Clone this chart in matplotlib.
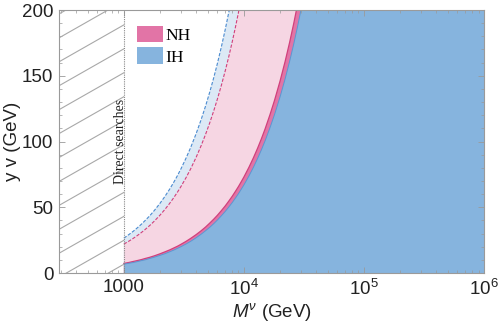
import matplotlib
matplotlib.use("Agg")
import matplotlib.pyplot as plt
import numpy as np
from matplotlib.patches import Rectangle, Patch
from matplotlib.ticker import FixedLocator, LogLocator, MultipleLocator, NullFormatter

# masses (GeV) and boundary values of y v (GeV)
mass = [1000, 1100, 1200, 1300, 1400, 1500, 1650, 1800, 2000, 2200, 2400,
        2600, 2800, 3000, 3300, 3600, 4000, 4400, 4800, 5200, 5600, 6000,
        6500, 7000, 7500, 8000, 8500, 9000, 9500, 10000, 11000, 12000,
        13000, 14000, 15000, 16500, 18000, 20000, 22000, 24000, 26000,
        28000, 30000, 33000, 40000, 1000000]
ih_solid = [6.7, 7.4, 8.0, 8.7, 9.4, 10.0, 11.1, 12.1, 13.4, 14.7, 16.1,
            17.4, 18.8, 20.1, 22.1, 24.1, 26.8, 29.5, 32.2, 34.8, 37.5, 40.2,
            43.6, 46.9, 50.3, 53.6, 57.0, 60.3, 63.7, 67, 73.7, 80.4,
            87.1, 93.8, 100.5, 110.6, 120.6, 134, 147.4, 160.8, 174.2,
            187.6, 201, 221, 268, 6700]
nh_solid = [7.3, 8.0, 8.8, 9.5, 10.2, 11.0, 12.0, 13.1, 14.6, 16.1, 17.5,
            19.0, 20.4, 21.9, 24.1, 26.3, 29.2, 32.1, 35.0, 38.0, 40.9, 43.8,
            47.5, 51.1, 54.8, 58.4, 62.1, 65.7, 69.4, 73, 80.3, 87.6,
            94.9, 102.2, 109.5, 120.5, 131.4, 146, 160.6, 175.2, 189.8,
            204.4, 219, 241, 292, 7300]
nh_dashed = [22, 24.2, 26.4, 28.6, 30.8, 33, 36.3, 39.6, 44, 48.4, 52.8,
             57.2, 61.6, 66, 72.6, 79.2, 88, 96.8, 105.6, 114.4, 123.2, 132,
             143, 154, 165, 176, 187, 198, 209, 220, 242, 264,
             286, 308, 330, 363, 396, 440, 484, 528, 572,
             616, 660, 726, 880, 22000]
ih_dashed = [26.5, 29.2, 31.8, 34.5, 37.1, 39.8, 43.7, 47.7, 53, 58.3, 63.6,
             68.9, 74.2, 79.5, 87.5, 95.4, 106, 116.6, 127.2, 137.8, 148.4, 159,
             172.3, 185.5, 198.8, 212, 225.3, 238.5, 251.8, 265, 291.5, 318,
             344.5, 371, 397.5, 437, 477, 530, 583, 636, 689,
             742, 795, 875, 1060, 26500]
direct_limit = 1000
x_range = (10 ** 2.46, 1e6)
y_range = (0, 200)
x_ticks = [1e3, 1e4, 1e5, 1e6]
x_ticklabels = ["1000", "$10^4$", "$10^5$", "$10^6$"]

pink_dark = "#e274a6"
pink_light = "#f6d6e3"
pink_line = "#d1407c"
blue = "#86b4de"
blue_light = "#dce9f5"
blue_line = "#4b8bd0"
frame = "#9a9a9a"

plt.rcParams["font.family"] = ["Liberation Sans", "DejaVu Sans"]
plt.rcParams["mathtext.fontset"] = "custom"
plt.rcParams["mathtext.rm"] = "Liberation Sans"
plt.rcParams["mathtext.it"] = "Liberation Sans:italic"

fig = plt.figure(figsize=(4.98, 3.24), dpi=100)
ax = fig.add_axes([0.1185, 0.1574, 0.8535, 0.8117])

m = np.asarray(mass)
ax.fill_between(m, 0, ih_dashed, color=blue_light, lw=0)
ax.fill_between(m, 0, nh_dashed, color=pink_light, lw=0)
ax.fill_between(m, 0, nh_solid, color=pink_dark, lw=0)
ax.fill_between(m, 0, ih_solid, color=blue, lw=0)
ax.plot(m, ih_dashed, color=blue_line, lw=0.8, ls=(0, (3, 1.5)))
ax.plot(m, nh_dashed, color=pink_line, lw=0.8, ls=(0, (3, 1.5)))
ax.plot(m, nh_solid, color=pink_line, lw=0.9)
ax.plot(m, ih_solid, color="#5c97d2", lw=0.7)

# excluded region from direct searches
ax.axvline(direct_limit, color="#888888", lw=0.8, ls=(0, (1, 1)))
clip = Rectangle((x_range[0], y_range[0]), direct_limit - x_range[0],
                 y_range[1] - y_range[0], transform=ax.transData,
                 fill=False, lw=0)
ax.add_patch(clip)
width_frac = (np.log10(direct_limit) - np.log10(x_range[0])) / (
    np.log10(x_range[1]) - np.log10(x_range[0]))
for start in np.arange(0.894 - 12 * 0.091, 1.0, 0.091):
    line, = ax.plot([0, width_frac], [start, start + 0.92 * width_frac],
                    transform=ax.transAxes, color="#a8a8a8", lw=0.8)
    line.set_clip_path(clip)

ax.text(945, 100, "Direct searches", rotation=90, ha="center", va="center",
        family=["Liberation Serif", "DejaVu Serif"], fontsize=10,
        color="#222222")

ax.set_xscale("log")
ax.set_xlim(*x_range)
ax.set_ylim(*y_range)
ax.xaxis.set_major_locator(FixedLocator(x_ticks))
ax.set_xticklabels(x_ticklabels)
ax.xaxis.set_minor_locator(LogLocator(base=10, subs=np.arange(2, 10)))
ax.xaxis.set_minor_formatter(NullFormatter())
ax.yaxis.set_major_locator(MultipleLocator(50))
ax.yaxis.set_minor_locator(MultipleLocator(10))
ax.tick_params(which="both", direction="in", top=True, right=True,
               color=frame, labelsize=13.5, labelcolor="#222222")
ax.tick_params(which="major", length=4, width=0.6, pad=4)
ax.tick_params(which="minor", length=2, width=0.5)
for spine in ax.spines.values():
    spine.set_color(frame)
    spine.set_linewidth(0.8)

ax.set_xlabel(r"$M^{\nu}$ (GeV)", fontsize=13.5, color="#222222", labelpad=2)
ax.set_ylabel("y v (GeV)", fontsize=13.5, color="#222222", labelpad=1)

handles = [Patch(facecolor=pink_dark, edgecolor="none", label="NH"),
           Patch(facecolor=blue, edgecolor="none", label="IH")]
ax.legend(handles=handles, loc="upper left", bbox_to_anchor=(0.16, 0.98),
          frameon=False, prop={"family": "Liberation Serif", "size": 12.5},
          handlelength=1.45, handleheight=1.1, handletextpad=0.15,
          labelspacing=0.2, borderaxespad=0.2)

fig.savefig("out.png", dpi=100)
